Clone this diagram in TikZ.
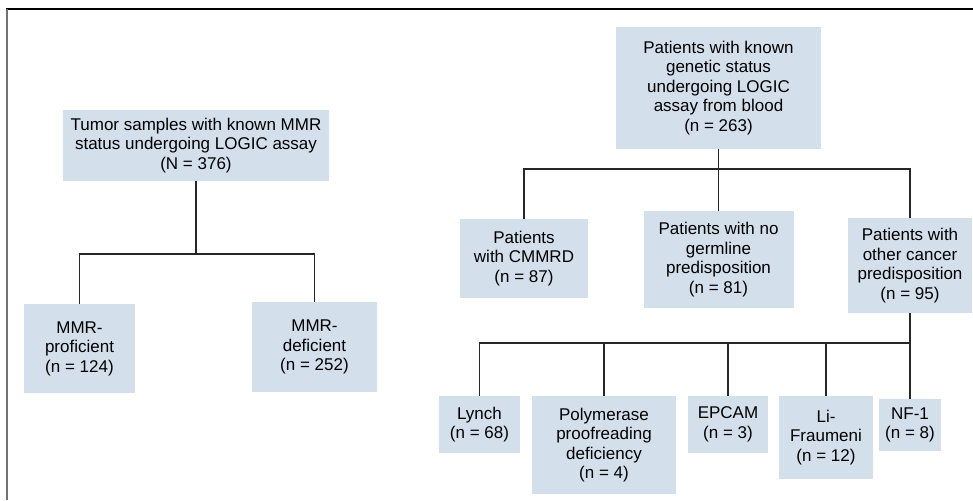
\documentclass[tikz,border=0pt]{standalone}
\usepackage{fontspec}
\setmainfont{Liberation Sans}
\usetikzlibrary{positioning}
\definecolor{boxblue}{RGB}{212,223,236}
\definecolor{framegray}{gray}{0.45}

\begin{document}
\begin{tikzpicture}[x=1pt, y=-1pt,
  box/.style={fill=boxblue, align=center, inner sep=0pt,
    font=\fontsize{17}{19.5}\selectfont},
  conn/.style={draw=black!85, line width=1.3pt},
  frameline/.style={line width=1.5pt}
]
\useasboundingbox (0,0) rectangle (973,500);

% frame
\draw[frameline, black] (6,9) -- (973,9);
\draw[frameline, framegray, line width=2.4pt] (7,9) -- (7,500);

% tumor samples branch
\node[box, minimum width=266, minimum height=71] (tumor) at (196,145.5)
  {Tumor samples with known MMR\\status undergoing LOGIC assay\\(N = 376)};
\node[box, minimum width=111, minimum height=89] (prof) at (79.5,348.5)
  {MMR-\\proficient\\(n = 124)};
\node[box, minimum width=125, minimum height=90] (def) at (314.5,347)
  {MMR-\\deficient\\(n = 252)};

\coordinate (jtumor) at (196,254);
\draw[conn] (tumor) -- (jtumor);
\draw[conn] (prof) |- (jtumor) -| (def);

% blood branch
\node[box, minimum width=205, minimum height=122] (blood) at (718.5,88)
  {Patients with known\\genetic status\\undergoing LOGIC\\assay from blood\\(n = 263)};
\node[box, minimum width=128, minimum height=79] (cmmrd) at (524,258.5)
  {Patients\\with CMMRD\\(n = 87)};
\node[box, minimum width=150, minimum height=97] (nogerm) at (718.5,259.5)
  {Patients with no\\germline\\predisposition\\(n = 81)};
\node[box, minimum width=124, minimum height=95] (other) at (910,265.5)
  {Patients with\\other cancer\\predisposition\\(n = 95)};

\coordinate (jblood) at (718.5,169);
\draw[conn] (blood) -- (nogerm);
\draw[conn] (cmmrd) |- (jblood) -| (other);

% other predisposition
\node[box, minimum width=81, minimum height=57] (lynch) at (479.5,424.5)
  {Lynch\\(n = 68)};
\node[box, minimum width=144, minimum height=98] (poly) at (604,445)
  {Polymerase\\proofreading\\deficiency\\(n = 4)};
\node[box, minimum width=80, minimum height=57] (epcam) at (728,424.5)
  {EPCAM\\(n = 3)};
\node[box, minimum width=94, minimum height=83] (lif) at (826,437.5)
  {Li-\\Fraumeni\\(n = 12)};
\node[box, minimum width=62, minimum height=52] (nf1) at (910,425)
  {NF-1\\(n = 8)};

\coordinate (jother) at (910,343);
\draw[conn] (other) -- (nf1);
\draw[conn] (lynch) |- (jother);
\draw[conn] (poly) -- (poly |- jother);
\draw[conn] (epcam) -- (epcam |- jother);
\draw[conn] (lif) -- (lif |- jother);
\end{tikzpicture}
\end{document}
